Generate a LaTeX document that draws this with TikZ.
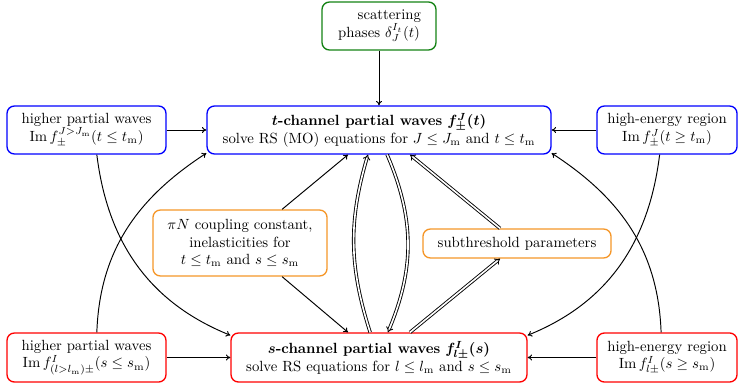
\documentclass[tikz,border=0pt]{standalone}
\usepackage{amsmath}
\usepackage{bm}
\usetikzlibrary{arrows.meta,calc}
\definecolor{dgreen}{RGB}{20,130,20}
\definecolor{orng}{RGB}{245,150,40}
\tikzset{
  box/.style={draw, rounded corners=5pt, line width=0.9pt, align=center, inner sep=2pt},
  bbox/.style={box, draw=blue},
  rbox/.style={box, draw=red},
  obox/.style={box, draw=orng},
  gbox/.style={box, draw=dgreen},
  conn/.style={line width=0.65pt, ->, >={To[length=3pt,width=4pt]}},
  dconn/.style={double, double distance=1.1pt, line width=0.6pt, -{Implies}},
}
\begin{document}
\begin{tikzpicture}[x=0.6775pt, y=-0.6775pt]
\useasboundingbox (0,0) rectangle (738,386);
\node[gbox, minimum width=77.2pt, minimum height=32.5pt] (g) at (379,26) {\hspace{1.4em}scattering\\ phases $\delta_J^{I_t}(t)$};
\node[bbox, minimum width=233pt, minimum height=32.5pt] (t) at (379,130) {$\bm{t}$\textbf{-channel partial waves} $\bm{f^J_\pm(t)}$\\ solve RS (MO) equations for $J\le J_\mathrm{m}$ and $t\le t_\mathrm{m}$};
\node[bbox, minimum width=107.7pt, minimum height=32.5pt] (lb) at (86.5,130) {higher partial waves\\ $\mathrm{Im}\, f_\pm^{J>J_\mathrm{m}}(t\le t_\mathrm{m})$};
\node[bbox, minimum width=94.9pt, minimum height=32.5pt] (rb) at (667,130) {high-energy region\\ $\mathrm{Im}\, f^J_\pm(t\ge t_\mathrm{m})$};
\node[obox, minimum width=117.9pt, minimum height=44.7pt] (o1) at (240,243) {$\pi N$ coupling constant,\\ inelasticities for\\ $t\le t_\mathrm{m}$ and $s\le s_\mathrm{m}$};
\node[obox, minimum width=127.4pt, minimum height=19.6pt] (o2) at (517,243.5) {subthreshold parameters};
\node[rbox, minimum width=107.7pt, minimum height=33.2pt] (lr) at (86.5,357.5) {higher partial waves\\ $\mathrm{Im}\, f^I_{(l>l_\mathrm{m})\pm}(s\le s_\mathrm{m})$};
\node[rbox, minimum width=200.5pt, minimum height=33.2pt] (s) at (379,357.5) {$\bm{s}$\textbf{-channel partial waves} $\bm{f^I_{l\pm}(s)}$\\ solve RS equations for $l\le l_\mathrm{m}$ and $s\le s_\mathrm{m}$};
\node[rbox, minimum width=94.9pt, minimum height=33.2pt] (rr) at (667,357.5) {high-energy region\\ $\mathrm{Im}\, f^I_{l\pm}(s\ge s_\mathrm{m})$};

\draw[conn] (g) -- (t);
\draw[conn] (lb) -- (t);
\draw[conn] (rb) -- (t);
\draw[conn] (lr) -- (s);
\draw[conn] (rr) -- (s);

\draw[conn] ([xshift=7pt]lb.south) to[out=-83, in=158] ([yshift=-2pt]s.north west);
\draw[conn] ([xshift=7pt]lr.north) to[out=88, in=-147] ([yshift=1pt]t.south west);
\draw[conn] ([xshift=-5pt]rb.south) to[out=-97, in=22] ([yshift=-2pt]s.north east);
\draw[conn] ([xshift=-4pt]rr.north) to[out=92, in=-33] ([yshift=1pt]t.south east);

\draw[conn] ([xshift=28.5pt]o1.north) -- ([xshift=-21pt]t.south);
\draw[conn] ([xshift=28.5pt]o1.south) -- ([xshift=-21pt]s.north);

\draw[dconn] ([xshift=-6pt]s.north) to[bend left=17] ([xshift=-7.5pt]t.south);
\draw[dconn] ([xshift=5.5pt]t.south) to[bend left=23] ([xshift=6pt]s.north);
\draw[dconn] ([xshift=-11.5pt]o2.north) -- ([xshift=21pt]t.south);
\draw[dconn] ([xshift=21pt]s.north) -- ([xshift=-11.5pt]o2.south);
\end{tikzpicture}
\end{document}
